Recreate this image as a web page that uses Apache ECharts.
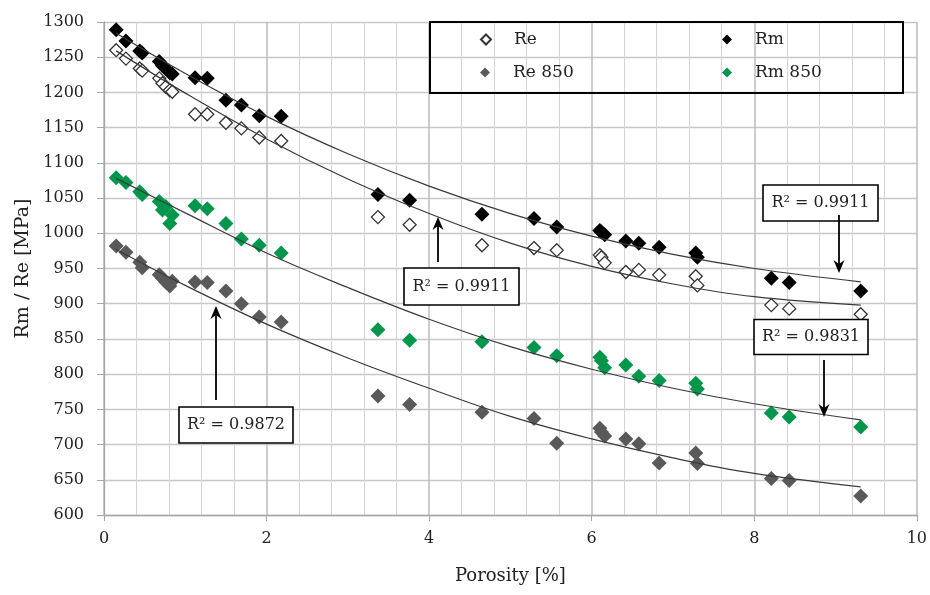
<!DOCTYPE html>
<html>
<head>
<meta charset="utf-8">
<script src="https://cdn.jsdelivr.net/npm/echarts@6/dist/echarts.min.js"></script>
<style>
html,body{margin:0;padding:0;background:#fff;}
#chart{width:930px;height:595px;}
</style>
</head>
<body>
<div id="chart"></div>
<script>
// ---- data ----
var porosity = [0.15,0.27,0.44,0.47,0.68,0.72,0.76,0.81,0.84,1.12,1.27,1.50,1.69,1.91,2.18,3.37,3.76,4.65,5.29,5.57,6.10,6.12,6.16,6.42,6.58,6.83,7.28,7.30,8.21,8.43,9.31];
var reValues    = [1260,1248,1234,1231,1220,1213,1208,1203,1201,1169,1169,1157,1149,1136,1131,1023,1012,983,979,976,969,966,958,945,948,941,939,926,898,893,885];
var rmValues    = [1289,1273,1259,1256,1244,1238,1234,1228,1226,1221,1220,1189,1182,1167,1166,1055,1047,1027,1021,1009,1004,1002,998,989,986,980,972,966,936,930,918];
var re850Values = [982,973,959,951,941,936,931,925,932,931,930,918,900,881,874,769,757,746,737,702,723,718,712,708,701,674,688,673,652,649,627];
var rm850Values = [1079,1072,1059,1055,1045,1033,1038,1014,1026,1039,1035,1014,992,983,972,863,848,846,838,826,824,819,809,813,797,791,787,779,745,739,725];

// trend lines
var trendX        = [0.15,1,2,3,4,5,6,7,8,9.31];
var rmTrend       = [1284,1227,1166,1113,1067,1028,996,970,950,931];
var reTrend       = [1259,1199,1134,1077,1028,986,953,928,910,898];
var rm850Trend    = [1078,1029,972,923,878,839,807,780,758,735];
var re850Trend    = [977,926,871,823,780,740,708,681,659,640];

var seriesNames = ['Re','Rm','Re 850','Rm 850'];
var r2Labels = ['R² = 0.9872','R² = 0.9911','R² = 0.9911','R² = 0.9831'];

// ---- helpers ----
function pairs(xs, ys){ return xs.map(function(x,i){ return [x, ys[i]]; }); }
var FONT = 'DejaVu Serif';

function scatter(name, vals, style, size){
  style.opacity = 1;
  return {
    name: name, type: 'scatter', data: pairs(porosity, vals),
    symbol: 'diamond', symbolSize: size, itemStyle: style, z: 3,
    emphasis: {disabled: true}
  };
}
function trend(vals){
  return {
    type: 'line', data: pairs(trendX, vals), smooth: 0.4, showSymbol: false,
    lineStyle: {color: '#3a3a3a', width: 1.2}, silent: true, z: 4
  };
}

// annotation layout (pixels)
var notes = [
  {cx:236,   cy:425,   w:114, h:36, ax:216, ay1:400, ay2:306},
  {cx:461.5, cy:286.5, w:115, h:37, ax:438, ay1:262, ay2:217},
  {cx:820.5, cy:203,   w:115, h:36, ax:839, ay1:215, ay2:273},
  {cx:811,   cy:337,   w:114, h:35, ax:824, ay1:360, ay2:417}
];

function arrow(x, y1, y2){
  var dir = y2 < y1 ? -1 : 1;
  var len = 13, hw = 5.5, notch = 4;
  return [
    {type:'line', shape:{x1:x, y1:y1, x2:x, y2:y2 - dir*len*0.6}, style:{stroke:'#000', lineWidth:1.8}, z:20},
    {type:'polygon', shape:{points:[[x, y2],[x-hw, y2 - dir*len],[x, y2 - dir*(len-notch)],[x+hw, y2 - dir*len]]},
     style:{fill:'#000'}, z:20}
  ];
}

var graphics = [];
// legend frame
graphics.push({type:'rect', shape:{x:430, y:22, width:473, height:71}, style:{fill:null, stroke:'#000', lineWidth:2}, z:10, silent:true});
notes.forEach(function(n, i){
  graphics.push({type:'rect', shape:{x:n.cx-n.w/2, y:n.cy-n.h/2, width:n.w, height:n.h},
    style:{fill:'#fff', stroke:'#000', lineWidth:1.6}, z:20});
  graphics.push({type:'text', x:n.cx, y:n.cy, style:{text:r2Labels[i], fontFamily:FONT, fontSize:16, fill:'#222',
    textAlign:'center', textVerticalAlign:'middle'}, z:21});
  arrow(n.ax, n.ay1, n.ay2).forEach(function(g){ graphics.push(g); });
});

function legendAt(name, left, top){
  return {data:[{name:name, icon:'diamond'}], left:left, top:top, padding:0, itemWidth:10, itemHeight:10, itemGap:0,
    selectedMode:false,
    textStyle:{fontFamily:FONT, fontSize:17, color:'#222', padding:[0,0,0,18]}};
}

var chart = echarts.init(document.getElementById('chart'), null, {renderer:'canvas'});
chart.setOption({
  animation: false,
  backgroundColor: '#fff',
  grid: {left:104, right:12, top:22, bottom:80, containLabel:false},
  legend: [
    legendAt(seriesNames[0], 480, 31),
    legendAt(seriesNames[1], 722, 31),
    legendAt(seriesNames[2], 480, 64),
    legendAt(seriesNames[3], 722, 64)
  ],
  xAxis: {
    type:'value', min:0, max:10, interval:2,
    name:'Porosity [%]', nameLocation:'middle', nameGap:52,
    nameTextStyle:{fontFamily:FONT, fontSize:18, color:'#222'},
    axisLine:{show:true, lineStyle:{color:'#a6a6a6', width:1.3}},
    axisTick:{show:true, inside:false, length:6, lineStyle:{color:'#a6a6a6'}},
    axisLabel:{fontFamily:FONT, fontSize:16, color:'#222', margin:16},
    splitLine:{show:true, lineStyle:{color:'#bdbdbd', width:1.5}},
    minorTick:{show:false, splitNumber:5},
    minorSplitLine:{show:true, lineStyle:{color:'#d4d4d4', width:1}}
  },
  yAxis: {
    type:'value', min:600, max:1300, interval:50,
    name:'Rm / Re [MPa]', nameLocation:'middle', nameGap:68, nameRotate:90,
    nameTextStyle:{fontFamily:FONT, fontSize:19, color:'#222'},
    axisLine:{show:true, lineStyle:{color:'#a6a6a6', width:1.3}},
    axisTick:{show:true, inside:false, length:7, lineStyle:{color:'#a6a6a6'}},
    axisLabel:{fontFamily:FONT, fontSize:16, color:'#222', margin:20, formatter:function(v){ return String(v); }},
    splitLine:{show:true, lineStyle:{color:'#c8c8c8', width:1.3}}
  },
  series: [
    scatter('Re', reValues, {color:'#fff', borderColor:'#333', borderWidth:1.3}, 13),
    scatter('Rm', rmValues, {color:'#000'}, 15),
    scatter('Re 850', re850Values, {color:'#595959'}, 15),
    scatter('Rm 850', rm850Values, {color:'#00964b'}, 15),
    trend(rmTrend), trend(reTrend), trend(rm850Trend), trend(re850Trend)
  ],
  graphic: graphics
});
</script>
</body>
</html>
